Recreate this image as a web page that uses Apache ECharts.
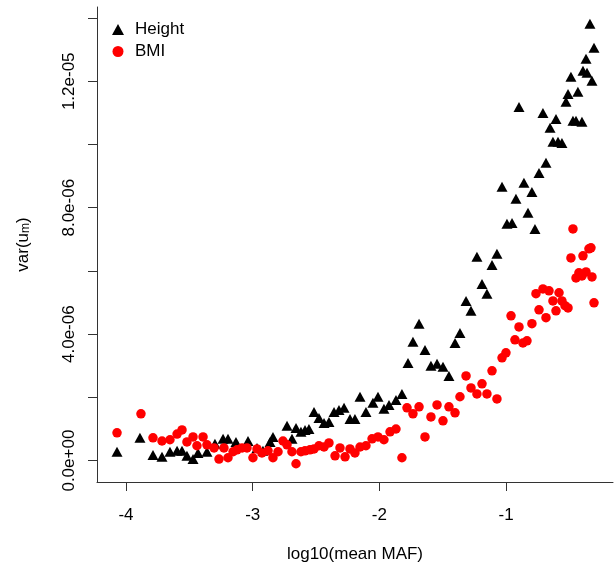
<!DOCTYPE html>
<html>
<head>
<meta charset="utf-8">
<script src="https://cdn.jsdelivr.net/npm/echarts@6/dist/echarts.min.js"></script>
<style>
html,body{margin:0;padding:0;background:#fff;}
#chart{width:614px;height:568px;}
</style>
</head>
<body>
<div id="chart"></div>
<script>
// log10(mean MAF) and var(u_m) (in units of 1e-6)
const heightX = [-4.071,-3.890,-3.787,-3.716,-3.653,-3.597,-3.558,-3.519,-3.471,-3.432,-3.361,-3.298,-3.234,-3.195,-3.132,-3.037,-2.966,-2.919,-2.863,-2.840,-2.729,-2.690,-2.658,-2.619,-2.587,-2.556,-2.516,-2.477,-2.437,-2.398,-2.358,-2.319,-2.279,-2.232,-2.193,-2.153,-2.106,-2.051,-2.011,-1.964,-1.924,-1.869,-1.822,-1.774,-1.735,-1.687,-1.640,-1.593,-1.545,-1.498,-1.451,-1.403,-1.364,-1.316,-1.277,-1.230,-1.190,-1.151,-1.111,-1.072,-1.032,-0.993,-0.953,-0.922,-0.898,-0.859,-0.827,-0.796,-0.772,-0.740,-0.709,-0.685,-0.653,-0.630,-0.606,-0.590,-0.559,-0.527,-0.511,-0.488,-0.472,-0.448,-0.433,-0.401,-0.393,-0.369,-0.361,-0.338,-0.322,-0.306];
const heightY = [0.28,0.72,0.18,0.12,0.28,0.31,0.31,0.15,0.05,0.24,0.28,0.53,0.69,0.69,0.59,0.62,0.40,0.31,0.59,0.75,1.10,0.69,1.03,0.91,0.97,1.00,1.54,1.35,1.19,1.22,1.54,1.60,1.67,1.32,1.32,2.02,1.54,1.83,2.02,1.64,1.76,1.92,2.11,3.09,3.76,4.33,3.50,3.00,3.06,2.97,2.68,3.72,4.04,5.05,4.74,6.45,5.59,5.28,6.19,6.54,8.66,7.49,7.52,8.28,11.19,8.79,7.84,8.50,7.33,9.10,11.00,9.42,10.53,10.09,10.81,10.09,10.05,11.35,11.60,12.14,10.75,10.75,11.67,10.72,12.33,12.71,12.27,13.82,12.02,13.06];
const bmiX = [-4.071,-3.882,-3.787,-3.716,-3.653,-3.597,-3.558,-3.519,-3.471,-3.440,-3.392,-3.361,-3.305,-3.266,-3.227,-3.195,-3.155,-3.124,-3.084,-3.045,-2.998,-2.966,-2.927,-2.879,-2.840,-2.800,-2.761,-2.729,-2.690,-2.658,-2.619,-2.587,-2.548,-2.516,-2.477,-2.437,-2.398,-2.350,-2.311,-2.271,-2.232,-2.193,-2.153,-2.106,-2.058,-2.011,-1.964,-1.916,-1.869,-1.822,-1.782,-1.735,-1.687,-1.640,-1.593,-1.545,-1.498,-1.451,-1.403,-1.364,-1.316,-1.277,-1.230,-1.190,-1.151,-1.111,-1.072,-1.032,-1.001,-0.961,-0.930,-0.898,-0.867,-0.835,-0.796,-0.764,-0.740,-0.709,-0.685,-0.661,-0.630,-0.606,-0.582,-0.559,-0.535,-0.511,-0.488,-0.472,-0.448,-0.425,-0.401,-0.393,-0.369,-0.346,-0.330,-0.322,-0.306];
const bmiY = [0.88,1.48,0.72,0.62,0.66,0.84,0.97,0.59,0.75,0.47,0.75,0.50,0.40,0.05,0.40,0.09,0.28,0.34,0.40,0.40,0.09,0.37,0.24,0.31,0.09,0.28,0.62,0.50,0.28,-0.10,0.28,0.31,0.34,0.37,0.47,0.43,0.56,0.15,0.40,0.12,0.37,0.24,0.43,0.47,0.69,0.75,0.66,0.91,1.00,0.09,1.67,1.48,1.70,0.75,1.38,1.76,1.26,1.70,1.51,2.02,2.68,2.30,2.11,2.43,2.11,2.84,1.95,3.25,3.41,4.58,3.82,4.23,3.72,3.79,4.33,5.28,4.77,5.43,4.52,5.37,5.05,4.74,5.31,5.05,4.90,4.83,6.41,7.33,5.78,5.94,5.84,6.48,5.97,6.70,6.73,5.81,4.99];

const xTickValues = [-4, -3, -2, -1];
const xTickLabels = ['-4', '-3', '-2', '-1'];
const yTickValues = [0, 2, 4, 6, 8, 10, 12, 14];
const yLabelValues = [0, 4, 8, 12];
const yTickLabels = ['0.0e+00', '4.0e-06', '8.0e-06', '1.2e-05'];
const seriesNames = ['Height', 'BMI'];

const FONT = '"Liberation Sans", Arial, Helvetica, sans-serif';
const zip = (xs, ys) => xs.map((x, i) => [x, ys[i]]);

const chart = echarts.init(document.getElementById('chart'), null, {renderer: 'canvas'});
chart.setOption({
  animation: false,
  backgroundColor: '#ffffff',
  textStyle: {fontFamily: FONT},
  grid: {left: 97, right: 1, top: 7, bottom: 86, containLabel: false, outerBoundsMode: 'none'},
  legend: {
    orient: 'vertical',
    left: 107,
    top: 16,
    itemWidth: 12,
    itemHeight: 11,
    itemGap: 5,
    textStyle: {fontFamily: FONT, fontSize: 17, color: '#000', lineHeight: 16, padding: [0, 0, 0, 6]},
    data: [
      {name: seriesNames[0], icon: 'triangle', itemStyle: {color: '#000'}},
      {name: seriesNames[1], icon: 'circle', itemStyle: {color: '#ff0000'}}
    ]
  },
  xAxis: {
    type: 'value',
    min: -4.229,
    max: -0.156,
    name: 'log10(mean MAF)',
    nameLocation: 'middle',
    nameGap: 64,
    nameTextStyle: {fontFamily: FONT, fontSize: 17, color: '#000'},
    axisLine: {show: true, onZero: false, lineStyle: {color: '#333', width: 1}},
    axisTick: {show: true, customValues: xTickValues, length: 9, lineStyle: {color: '#333', width: 1}},
    axisLabel: {
      customValues: xTickValues,
      margin: 25,
      fontFamily: FONT, fontSize: 17, color: '#000',
      formatter: v => { const i = xTickValues.indexOf(v); return i >= 0 ? xTickLabels[i] : ''; }
    },
    splitLine: {show: false}
  },
  yAxis: {
    type: 'value',
    min: -0.677,
    max: 14.35,
    name: 'var(u{sub|m})',
    nameLocation: 'middle',
    nameRotate: 90,
    nameGap: 65,
    nameTextStyle: {
      fontFamily: FONT, fontSize: 17, color: '#000',
      rich: {sub: {fontFamily: FONT, fontSize: 12, color: '#000', verticalAlign: 'bottom', padding: [6, 0, 0, 0]}}
    },
    axisLine: {show: true, onZero: false, lineStyle: {color: '#333', width: 1}},
    axisTick: {show: true, customValues: yTickValues, length: 9, lineStyle: {color: '#333', width: 1}},
    axisLabel: {
      customValues: yLabelValues,
      rotate: 90,
      margin: 19,
      fontFamily: FONT, fontSize: 17, color: '#000',
      formatter: v => { const i = yLabelValues.indexOf(v); return i >= 0 ? yTickLabels[i] : ''; }
    },
    splitLine: {show: false}
  },
  series: [
    {
      name: seriesNames[0],
      type: 'scatter',
      symbol: 'triangle',
      symbolSize: [11, 10],
      itemStyle: {color: '#000', opacity: 1},
      data: zip(heightX, heightY),
      z: 2
    },
    {
      name: seriesNames[1],
      type: 'scatter',
      symbol: 'circle',
      symbolSize: 9.5,
      itemStyle: {color: '#ff0000', opacity: 1},
      data: zip(bmiX, bmiY),
      z: 3
    }
  ]
});
</script>
</body>
</html>
